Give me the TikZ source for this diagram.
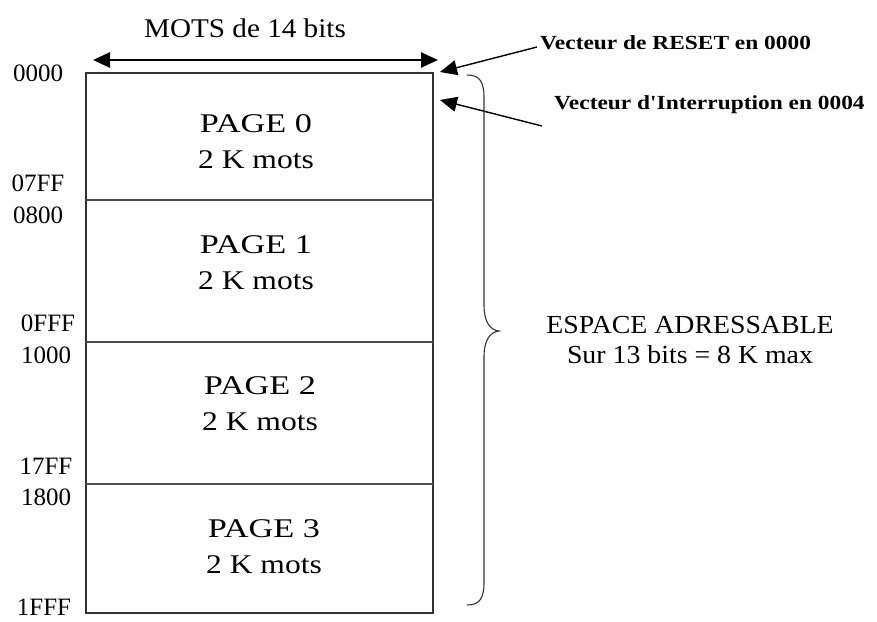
\documentclass[tikz,border=0pt]{standalone}
\usepackage{fontspec}
\setmainfont{Liberation Serif}
\usetikzlibrary{arrows.meta}
\newcommand{\stretchtxt}[2]{\scalebox{#1}[1]{#2}}
\begin{document}
\begin{tikzpicture}[x=1pt,y=-1pt,
  frame/.style={draw=black!80,line width=1.3pt},
  sep/.style={draw=black!70,line width=1.1pt},
  pagetxt/.style={align=center,font=\fontsize{27}{36}\selectfont,inner sep=0pt},
  addr/.style={font=\fontsize{25}{30}\selectfont,inner sep=0pt},
  note/.style={font=\fontsize{20}{22}\selectfont\bfseries,inner sep=0pt},
  bigtip/.style={-{Triangle[length=17pt,width=15pt]}},
]
\useasboundingbox (0,0) rectangle (877,621);
\clip (0,0) rectangle (877,621);

% memory block
\coordinate (tl) at (86,73);
\coordinate (br) at (433,613);
\draw[frame] (tl) rectangle (br);
\draw[sep] (86,200) -- (433,200);
\draw[sep] (86,342) -- (433,342);
\draw[sep] (86,484) -- (433,484);

\node[pagetxt] (p0) at (256,142) {\stretchtxt{1.27}{PAGE 0}\\\stretchtxt{1.17}{2 K mots}};
\node[pagetxt] (p1) at (256,263) {\stretchtxt{1.27}{PAGE 1}\\\stretchtxt{1.17}{2 K mots}};
\node[pagetxt] (p2) at (260,404) {\stretchtxt{1.27}{PAGE 2}\\\stretchtxt{1.17}{2 K mots}};
\node[pagetxt] (p3) at (264,547) {\stretchtxt{1.27}{PAGE 3}\\\stretchtxt{1.17}{2 K mots}};

% addresses
\node[addr] (a0) at (38,73) {0000};
\node[addr] (a1) at (38,183) {07FF};
\node[addr] (a2) at (38,215) {0800};
\node[addr] (a3) at (48,323) {0FFF};
\node[addr] (a4) at (46,355) {1000};
\node[addr] (a5) at (46,466) {17FF};
\node[addr] (a6) at (46,497) {1800};
\node[addr] (a7) at (44,607) {1FFF};

% word width
\coordinate (wl) at (93,60);
\coordinate (wr) at (438,60);
\draw[line width=2.6pt,{Triangle[length=17pt,width=15pt]}-{Triangle[length=17pt,width=15pt]}] (wl) -- (wr);
\node[font=\fontsize{27}{30}\selectfont,inner sep=0pt] (mots) at (245,28) {\stretchtxt{1.08}{MOTS de 14 bits}};

% vectors
\node[note,anchor=west] (reset) at (540,43) {\stretchtxt{1.17}{Vecteur de RESET en 0000}};
\node[note,anchor=west] (irq) at (554,105) {\stretchtxt{1.17}{Vecteur d\textquotesingle Interruption en 0004}};
\coordinate (rst) at (440,72);
\coordinate (itp) at (440,100);
\draw[line width=1.4pt,bigtip] (reset.west) ++(-3,4) -- (rst);
\draw[line width=1.4pt,bigtip] (542,126) -- (itp);

% addressable space brace
\draw[line width=1.1pt,black!80]
  (467,75) .. controls (480,75) and (484,82) .. (484,98)
  -- (484,305) .. controls (484,322) and (490,330) .. (499,331)
  .. controls (490,332) and (484,340) .. (484,357)
  -- (484,582) .. controls (484,598) and (480,605) .. (467,605);
\node[align=center,font=\fontsize{26}{30}\selectfont,inner sep=0pt] (esp) at (690,340)
  {\stretchtxt{1.07}{ESPACE ADRESSABLE}\\\stretchtxt{1.07}{Sur 13 bits = 8 K max}};
\end{tikzpicture}
\end{document}
